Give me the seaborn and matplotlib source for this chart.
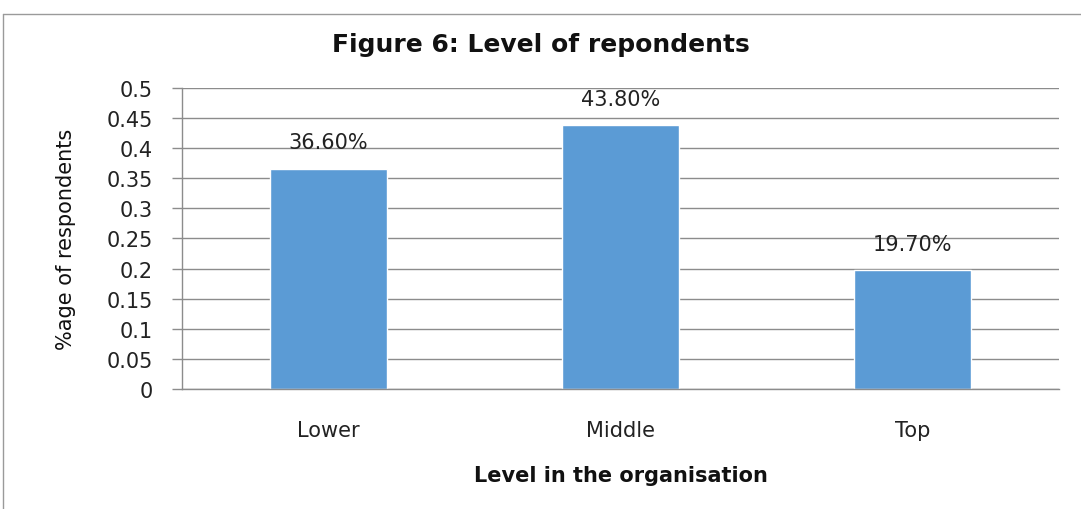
import numpy as np
import pandas as pd
import matplotlib
matplotlib.use('Agg')
import matplotlib.pyplot as plt
import seaborn as sns
from matplotlib.lines import Line2D

levels = ['Lower', 'Middle', 'Top']
shares = [0.366, 0.438, 0.197]
share_labels = ['36.60%', '43.80%', '19.70%']
y_ticks = [0, 0.05, 0.1, 0.15, 0.2, 0.25, 0.3, 0.35, 0.4, 0.45, 0.5]
y_tick_labels = ['0', '0.05', '0.1', '0.15', '0.2', '0.25', '0.3', '0.35', '0.4', '0.45', '0.5']

df = pd.DataFrame({'level': levels, 'share': shares})

sns.set_style('white')
plt.rcParams['font.family'] = ['DejaVu Sans']

fig = plt.figure(figsize=(10.81, 5.10), dpi=100)
ax = fig.add_axes([0.1684, 0.2353, 0.8112, 0.5902])

sns.barplot(data=df, x='level', y='share', color='#5B9BD5', saturation=1,
            width=0.4, ax=ax)

ax.set_xlim(-0.5, 2.5)
ax.set_ylim(0, 0.5)
ax.set_yticks(y_ticks)
ax.set_yticklabels(y_tick_labels, fontsize=15, color='#222222')
ax.yaxis.grid(True, color='#8c8c8c', linewidth=1)
ax.set_axisbelow(True)

# category ticks between bars
ax.set_xticks(range(len(levels)))
ax.set_xticklabels(levels, fontsize=15, color='#222222')
ax.set_xticks([-0.5, 0.5, 1.5, 2.5], minor=True)
ax.tick_params(axis='x', which='major', length=0, pad=22)
ax.tick_params(axis='x', which='minor', length=7, color='#8c8c8c', width=1)
ax.tick_params(axis='y', length=7, color='#8c8c8c', width=1, left=True, pad=14)

for side in ['top', 'right']:
    ax.spines[side].set_visible(False)
for side in ['left', 'bottom']:
    ax.spines[side].set_color('#8c8c8c')
    ax.spines[side].set_linewidth(1)

for i, (v, lab) in enumerate(zip(shares, share_labels)):
    ax.annotate(lab, (i, v), xytext=(0, 12), textcoords='offset points',
                ha='center', va='bottom', fontsize=15, color='#222222')

ax.set_xlabel('Level in the organisation', fontsize=15, fontweight='bold',
              labelpad=18, color='#111111')
ax.set_ylabel('%age of respondents', fontsize=15, color='#111111', labelpad=22)
fig.text(0.5, 0.912, 'Figure 6: Level of repondents', ha='center', va='center',
         fontsize=18, fontweight='bold', color='#111111')

# chart frame
fig.add_artist(Line2D([0.003, 0.003], [0, 0.97], transform=fig.transFigure,
                      color='#9a9a9a', linewidth=1))
fig.add_artist(Line2D([0.003, 1.0], [0.97, 0.97], transform=fig.transFigure,
                      color='#9a9a9a', linewidth=1))

fig.savefig('out.png', dpi=100)
